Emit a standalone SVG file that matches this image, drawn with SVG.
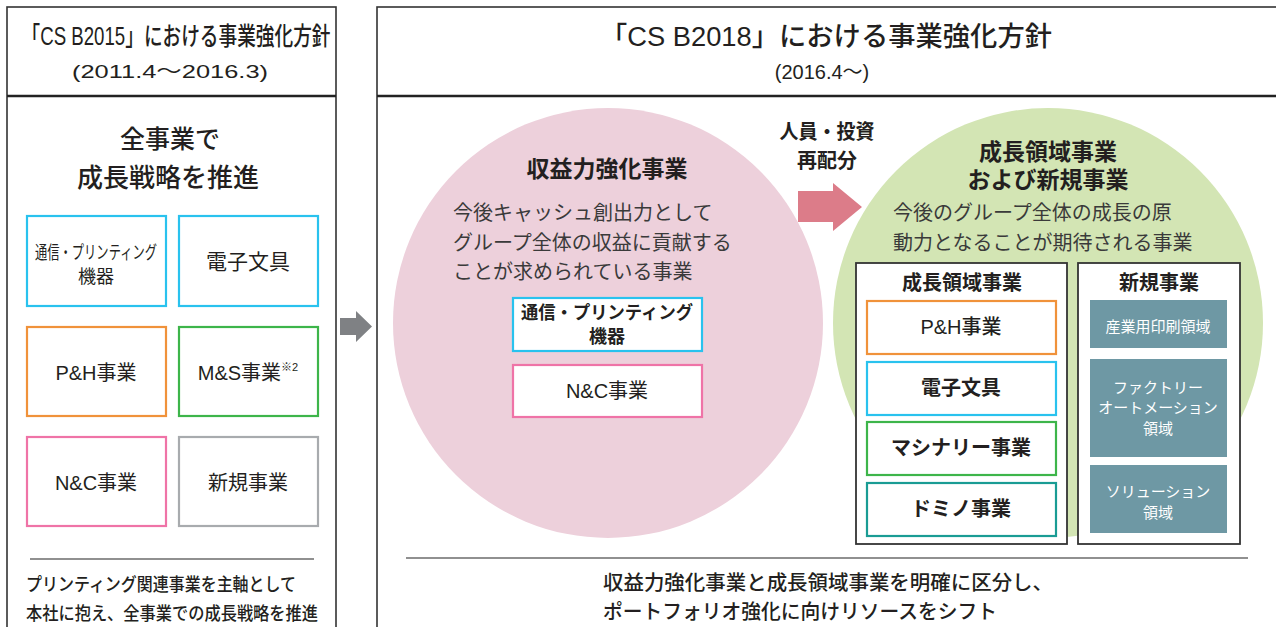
<svg xmlns="http://www.w3.org/2000/svg" width="1276" height="627" viewBox="0 0 1276 627">
<style>
text{font-family:"Liberation Sans","Noto Sans CJK JP",sans-serif;fill:#231f20;dominant-baseline:central;}
.c{text-anchor:middle;}
.b{font-weight:bold;}
.m{font-weight:500;}
.panel{fill:#fff;stroke:#333;stroke-width:1.6;}
.div{stroke:#222;stroke-width:2.4;}
.box{fill:#fff;stroke-width:2.2;}
.cy{stroke:#29c2ee;}
.or{stroke:#f0923a;}
.gr{stroke:#3db54a;}
.pk{stroke:#ef73a7;}
.gy{stroke:#a8abae;}
.tl{stroke:#1a9c94;}
.teal{fill:#6e98a4;}
.wt{fill:#fff;font-size:15px;}
.desc{fill:#3a3a3a;font-size:20px;}
</style>
<rect width="1276" height="627" fill="#fff"/>

<g id="left-panel">
  <rect class="panel" x="7" y="7" width="329" height="640"/>
  <line class="div" x1="7" y1="96" x2="336" y2="96"/>
  <text x="176" y="36" class="c m" font-size="25" textLength="309" lengthAdjust="spacingAndGlyphs">「CS B2015」における事業強化方針</text>
  <text x="170" y="71" class="c" font-size="19" textLength="196" lengthAdjust="spacingAndGlyphs">(2011.4〜2016.3)</text>
  <text x="170" y="139" class="c m" font-size="25">全事業で</text>
  <text x="168" y="178" class="c m" font-size="26">成長戦略を推進</text>
  <line x1="30" y1="559" x2="314" y2="559" stroke="#222" stroke-width="1.2"/>
  <text x="26" y="585" class="m" font-size="18" textLength="270" lengthAdjust="spacingAndGlyphs">プリンティング関連事業を主軸として</text>
  <text x="26" y="614" class="m" font-size="18" textLength="292" lengthAdjust="spacingAndGlyphs">本社に抱え、全事業での成長戦略を推進</text>
</g>

<g id="l-tsushin">
  <rect class="box cy" x="27" y="216" width="139" height="90"/>
  <text x="96" y="253" class="c" font-size="18" textLength="122" lengthAdjust="spacingAndGlyphs">通信・プリンティング</text>
  <text x="96" y="277" class="c" font-size="18">機器</text>
</g>
<g id="l-denshi">
  <rect class="box cy" x="179" y="216" width="139" height="90"/>
  <text x="248" y="261" class="c" font-size="21">電子文具</text>
</g>
<g id="l-ph">
  <rect class="box or" x="27" y="327" width="139" height="89"/>
  <text x="96" y="373" class="c" font-size="20">P&amp;H事業</text>
</g>
<g id="l-ms">
  <rect class="box gr" x="179" y="327" width="139" height="89"/>
  <text x="248" y="373" class="c" font-size="20">M&amp;S事業<tspan font-size="11" dy="-6">※2</tspan></text>
</g>
<g id="l-nc">
  <rect class="box pk" x="27" y="437" width="139" height="89"/>
  <text x="96" y="483" class="c" font-size="20">N&amp;C事業</text>
</g>
<g id="l-shinki">
  <rect class="box gy" x="179" y="437" width="139" height="89"/>
  <text x="248" y="483" class="c" font-size="20">新規事業</text>
</g>

<g id="right-panel">
  <rect class="panel" x="377" y="7" width="920" height="640"/>
  <line class="div" x1="377" y1="96" x2="1276" y2="96"/>
  <text x="826" y="37" class="c m" font-size="27" textLength="452" lengthAdjust="spacingAndGlyphs">「CS B2018」における事業強化方針</text>
  <text x="822" y="72" class="c" font-size="20">(2016.4〜)</text>
  <line x1="406" y1="558" x2="1248" y2="558" stroke="#222" stroke-width="1.2"/>
  <text x="603" y="583" class="m" font-size="20" textLength="450" lengthAdjust="spacingAndGlyphs">収益力強化事業と成長領域事業を明確に区分し、</text>
  <text x="603" y="612" class="m" font-size="20" textLength="394" lengthAdjust="spacingAndGlyphs">ポートフォリオ強化に向けリソースをシフト</text>
</g>

<g id="profit-circle">
  <circle cx="608" cy="323" r="215" fill="#edd0db"/>
  <text x="607" y="169" class="c b" font-size="23">収益力強化事業</text>
  <text x="453" y="213" class="desc">今後キャッシュ創出力として</text>
  <text x="453" y="243" class="desc">グループ全体の収益に貢献する</text>
  <text x="453" y="272" class="desc">ことが求められている事業</text>
</g>
<g id="r-tsushin">
  <rect class="box cy" x="513" y="298" width="189" height="53"/>
  <text x="607" y="313" class="c b" font-size="18" textLength="172" lengthAdjust="spacingAndGlyphs">通信・プリンティング</text>
  <text x="607" y="337" class="c b" font-size="18">機器</text>
</g>
<g id="r-nc">
  <rect class="box pk" x="513" y="365" width="189" height="52"/>
  <text x="607" y="391" class="c" font-size="20">N&amp;C事業</text>
</g>

<g id="realloc-label">
  <text x="827" y="132" class="c b" font-size="20" textLength="95" lengthAdjust="spacingAndGlyphs">人員・投資</text>
  <text x="827" y="161" class="c b" font-size="20">再配分</text>
</g>

<g id="growth-circle">
  <circle cx="1048" cy="323" r="215" fill="#d3e5b4"/>
  <text x="1048" y="152" class="c b" font-size="23">成長領域事業</text>
  <text x="1048" y="180" class="c b" font-size="23">および新規事業</text>
  <text x="893" y="213" class="desc">今後のグループ全体の成長の原</text>
  <text x="893" y="243" class="desc">動力となることが期待される事業</text>
</g>

<g id="growth-box">
  <rect x="856" y="263" width="211" height="281" fill="#fff" stroke="#333" stroke-width="1.8"/>
  <text x="962" y="283" class="c b" font-size="20">成長領域事業</text>
</g>
<g id="g-ph">
  <rect class="box or" x="867" y="301" width="189" height="53"/>
  <text x="961" y="327" class="c m" font-size="20">P&amp;H事業</text>
</g>
<g id="g-denshi">
  <rect class="box cy" x="867" y="362" width="189" height="53"/>
  <text x="961" y="388" class="c b" font-size="20">電子文具</text>
</g>
<g id="g-machinery">
  <rect class="box gr" x="867" y="422" width="189" height="53"/>
  <text x="961" y="448" class="c b" font-size="20">マシナリー事業</text>
</g>
<g id="g-domino">
  <rect class="box tl" x="867" y="483" width="189" height="53"/>
  <text x="961" y="509" class="c b" font-size="20">ドミノ事業</text>
</g>

<g id="new-box">
  <rect x="1078" y="263" width="162" height="281" fill="#fff" stroke="#333" stroke-width="1.8"/>
  <text x="1159" y="283" class="c b" font-size="20">新規事業</text>
</g>
<g id="n-print">
  <rect class="teal" x="1090" y="300" width="137" height="48"/>
  <text x="1158" y="326" class="c wt">産業用印刷領域</text>
</g>
<g id="n-fa">
  <rect class="teal" x="1090" y="359" width="137" height="98"/>
  <text x="1158" y="387" class="c wt">ファクトリー</text>
  <text x="1158" y="407" class="c wt">オートメーション</text>
  <text x="1158" y="428" class="c wt">領域</text>
</g>
<g id="n-solution">
  <rect class="teal" x="1090" y="465" width="137" height="68"/>
  <text x="1158" y="491" class="c wt">ソリューション</text>
  <text x="1158" y="512" class="c wt">領域</text>
</g>

<g id="connectors">
  <polygon points="340,318 356,318 356,311 372,326.5 356,342 356,335 340,335" fill="#7f8184"/>
  <polygon points="798,191 833,191 833,183 862,207 833,231 833,222 798,222" fill="#dc7c89"/>
</g>
</svg>
